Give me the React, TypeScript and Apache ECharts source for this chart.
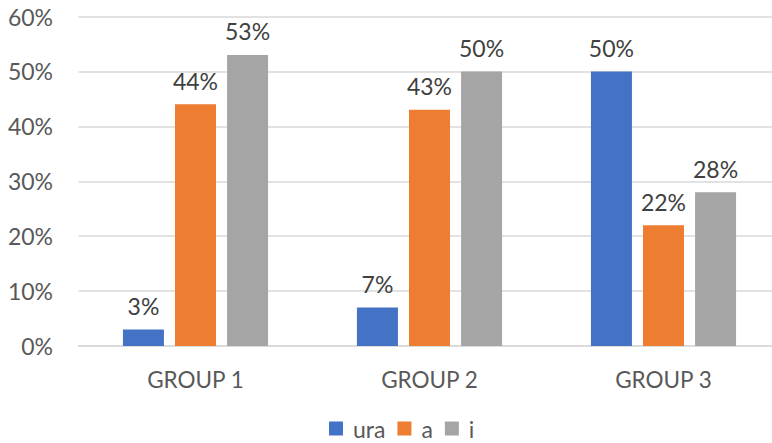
import React, { useEffect, useRef } from "react";
import * as echarts from "echarts";

const categories = ["GROUP 1", "GROUP 2", "GROUP 3"];
const seriesNames = ["ura", "a", "i"];
const uraValues = [3, 7, 50];
const aValues = [44, 43, 22];
const iValues = [53, 50, 28];
const colors = ["#4472C4", "#ED7D31", "#A5A5A5"];

const FONT = "Lato";

export default function App() {
  const ref = useRef<HTMLDivElement>(null);
  useEffect(() => {
    if (!ref.current) return;
    const chart = echarts.init(ref.current, undefined, { renderer: "svg" });
    const data = [uraValues, aValues, iValues];
    chart.setOption({
      animation: false,
      textStyle: { fontFamily: FONT },
      grid: { left: 78.5, width: 702, top: 16.5, bottom: 97, containLabel: false, outerBoundsMode: "none" },
      legend: {
        top: 412,
        left: 324,
        itemWidth: 14,
        itemHeight: 14,
        itemGap: 12,
        icon: "rect",
        textStyle: { fontFamily: FONT, fontSize: 23, lineHeight: 20, color: "#595959", padding: [0, 0, 0, 5] },
        data: seriesNames,
      },
      xAxis: {
        type: "category",
        data: categories,
        axisLine: { lineStyle: { color: "#D9D9D9", width: 1.5 } },
        axisTick: { show: false },
        axisLabel: { fontFamily: FONT, fontSize: 22.5, color: "#595959", margin: 22 },
      },
      yAxis: {
        type: "value",
        min: 0,
        max: 60,
        interval: 10,
        axisLabel: { formatter: "{value}%", fontFamily: FONT, fontSize: 23, color: "#595959", margin: 25.5 },
        splitLine: { lineStyle: { color: "#D9D9D9", width: 1.5 } },
        axisLine: { show: false },
        axisTick: { show: false },
      },
      series: seriesNames.map((name, i) => ({
        name,
        type: "bar",
        data: data[i],
        barWidth: 41,
        barGap: "27%",
        itemStyle: { color: colors[i] },
        label: {
          show: true,
          position: "top",
          distance: 12,
          formatter: "{c}%",
          fontFamily: FONT,
          fontSize: 23,
          color: "#404040",
        },
      })),
    });
    return () => chart.dispose();
  }, []);
  return <div ref={ref} style={{ width: 772, height: 443, position: "absolute", left: 0, top: 0 }} />;
}
